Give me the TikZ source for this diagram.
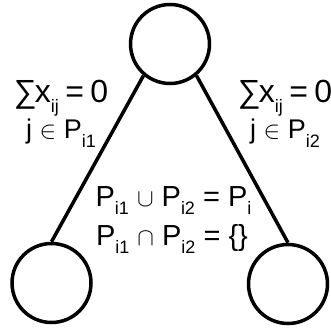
\documentclass[tikz,border=0pt]{standalone}
\usepackage{fontspec}
\setmainfont{Liberation Sans}
\usepackage{amssymb}
\newcommand{\subs}[1]{\raisebox{-.3em}{\fontsize{18}{18}\selectfont #1}}
\newcommand{\sumline}{∑\kern-.05em x\subs{ij}\kern.2em=\kern.2em0}

\begin{document}
\begin{tikzpicture}[x=1pt,y=-1pt,
  vertex/.style={circle, draw, line width=3.5pt, minimum size=79pt, inner sep=0pt},
  edge/.style={line width=3.5pt},
  lbl/.style={anchor=base, inner sep=0pt, font=\fontsize{29}{34}\selectfont},
  sumlbl/.style={lbl, font=\fontsize{32}{36}\selectfont},
  setlbl/.style={lbl, font=\fontsize{27}{32}\selectfont}]
\useasboundingbox (0,0) rectangle (331,331);
\node[vertex] (top) at (170,44) {};
\node[vertex] (left) at (51.5,283) {};
\node[vertex] (right) at (288,284) {};
\draw[edge] (top.230) -- (left.north);
\draw[edge] (top.310) -- (right.north);
\node[sumlbl] (sumL) at (61,103) {\sumline};
\node[setlbl] (setL) at (61,139) {j $\in$ P\subs{i1}};
\node[sumlbl] (sumR) at (285,103) {\sumline};
\node[setlbl] (setR) at (285,139) {j $\in$ P\subs{i2}};
\node[lbl] (union) at (173.5,206) {P\subs{i1} $\cup$ P\subs{i2} = P\subs{i}};
\node[lbl] (inter) at (172,245) {P\subs{i1} $\cap$ P\subs{i2} = \{\}};
\end{tikzpicture}
\end{document}
